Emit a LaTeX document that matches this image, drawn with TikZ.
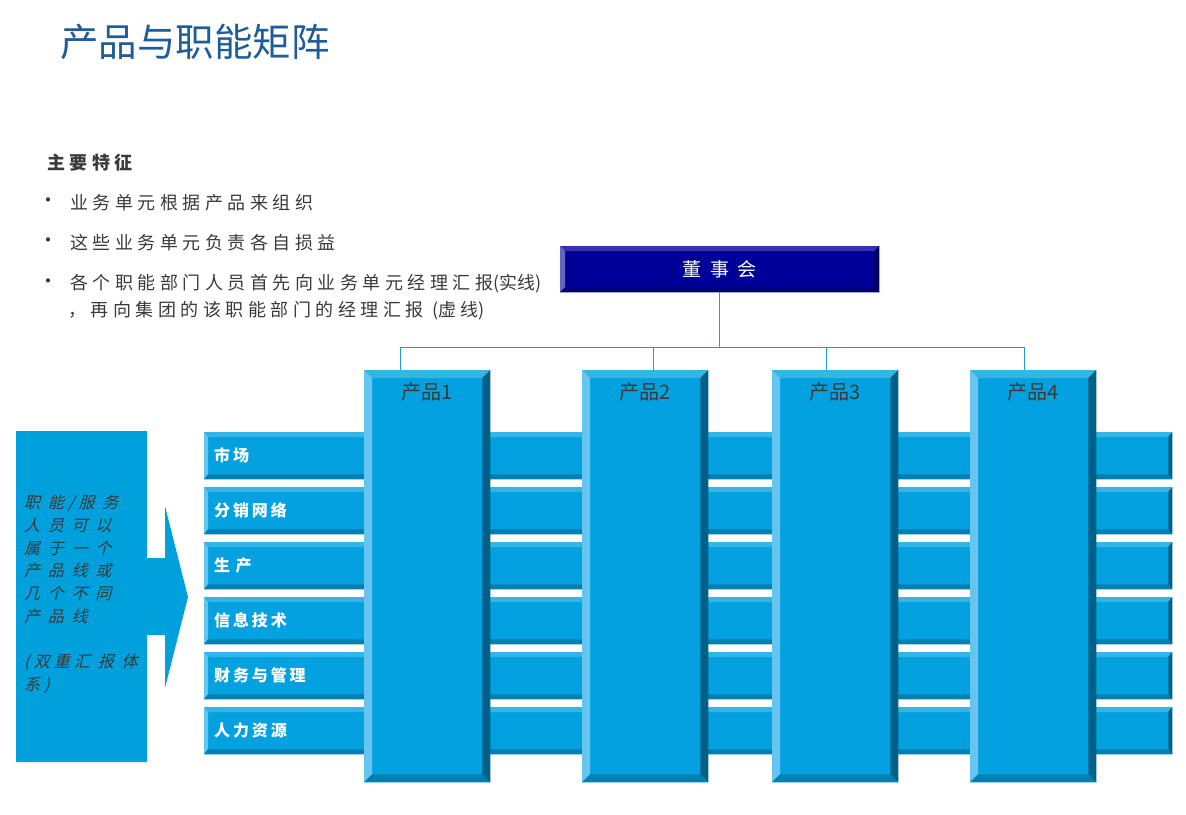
\documentclass[tikz,border=0pt]{standalone}
\usepackage{fontspec}
\usepackage{tikz}
\usetikzlibrary{positioning,calc}
\newfontfamily\cjk{Noto Sans CJK SC}
\newfontfamily\cjksp[LetterSpace=25]{Noto Sans CJK SC}
\newfontfamily\cjkwide[LetterSpace=45]{Noto Sans CJK SC}
\newfontfamily\cjkrow[LetterSpace=18]{Noto Sans CJK SC}
\newfontfamily\cjkit[FakeSlant=0.25,LetterSpace=26]{Noto Sans CJK SC}
\definecolor{titleblue}{HTML}{1F5C99}
\definecolor{txtgray}{HTML}{3A3A3A}
\definecolor{face}{HTML}{03A1E0}
\definecolor{bvtop}{HTML}{33B5E5}
\definecolor{bvleft}{HTML}{66C5EE}
\definecolor{bvright}{HTML}{006088}
\definecolor{bvbottom}{HTML}{0080B0}
\definecolor{navy}{HTML}{000099}
\definecolor{nvtop}{HTML}{3333AD}
\definecolor{nvleft}{HTML}{6666C0}
\definecolor{nvright}{HTML}{00005C}
\definecolor{nvbottom}{HTML}{000070}
\definecolor{busblue}{HTML}{1E9BD7}
\definecolor{arrowblue}{HTML}{00A0DC}

\begin{document}
\begin{tikzpicture}[x=1pt, y=-1pt,
    title/.style={anchor=west, inner sep=0, text=titleblue, font=\cjk\fontsize{38.5}{42}\selectfont},
    feat/.style={anchor=west, inner sep=0, text=txtgray, font=\cjksp\fontsize{18}{20}\selectfont},
    row/.style={anchor=north west, fill=face, minimum width=968, minimum height=47, inner ysep=0,
        inner xsep=10pt, text width=948pt, align=left, text=white, font=\cjkrow\bfseries\fontsize{16}{18}\selectfont},
    prod/.style={anchor=north west, fill=face, minimum width=126, minimum height=412, inner sep=0},
    prodlabel/.style={anchor=north, inner sep=0, text=txtgray, font=\cjk\fontsize{20}{22}\selectfont},
    board/.style={anchor=north west, fill=navy, minimum width=319, minimum height=46, inner sep=0,
        text=white, font=\cjkwide\fontsize{19}{22}\selectfont},
    bus/.style={busblue, line width=0.9pt},
    note/.style={anchor=north west, inner sep=0, align=left, text=txtgray,
        font=\cjkit\fontsize{16}{22.7}\selectfont}]
    \useasboundingbox (0,0) rectangle (1186,814);

    % Title and the list of features
    \node[title] (title) at (60,42) {产品与职能矩阵};
    \node[feat, font=\cjksp\bfseries\fontsize{18}{20}\selectfont] (head) at (47,163) {主要特征};
    \foreach \y in {203,243,284} \node[feat, font=\cjk\fontsize{20}{22}\selectfont] (dot\y) at (38,\y) {•};
    \node[feat] (f1) at (70,203) {业务单元根据产品来组织};
    \node[feat] (f2) at (70,243) {这些业务单元负责各自损益};
    \node[feat] (f3) at (70,284) {各个职能部门人员首先向业务单元经理汇报{\cjk(实线)}};
    \node[feat] (f4) at (68,311) {，再向集团的该职能部门的经理汇报 {\cjk(虚 线)}};

    % Left arrow with its note
    \fill[arrowblue] (16,431) -- (147,431) -- (147,558) -- (165,558) -- (165,506) -- (188,597)
        -- (165,688) -- (165,635) -- (147,635) -- (147,762) -- (16,762) -- cycle;
    \node[note] (note) at (24,495) {职 能/服 务\\人 员 可 以\\属 于 一 个\\产 品 线 或\\几 个 不 同\\产 品 线\\[22.7pt](双重汇 报 体\\系)};

    % Function rows
    \foreach \n/\txt [count=\i] in {mkt/市场, dist/分销网络, prodn/生 产, it/信息技术, fin/财务与管理, hr/人力资源}
        \node[row] (\n) at (204,{432+55*(\i-1)}) {\txt};
    \foreach \n in {mkt,dist,prodn,it,fin,hr} {
        \fill[bvtop] (\n.north west) -- (\n.north east) -- ([shift={(-5pt,-5pt)}]\n.north east) -- ([shift={(5pt,-5pt)}]\n.north west) -- cycle;
        \fill[bvleft] (\n.north west) -- (\n.south west) -- ([shift={(4pt,5pt)}]\n.south west) -- ([shift={(4pt,-5pt)}]\n.north west) -- cycle;
        \fill[bvright] (\n.north east) -- (\n.south east) -- ([shift={(-4pt,5pt)}]\n.south east) -- ([shift={(-4pt,-5pt)}]\n.north east) -- cycle;
        \fill[bvbottom] (\n.south west) -- (\n.south east) -- ([shift={(-4pt,5pt)}]\n.south east) -- ([shift={(4pt,5pt)}]\n.south west) -- cycle;
    }

    % Product columns
    \foreach \n/\x in {p1/364, p2/582, p3/772, p4/970}
        \node[prod] (\n) at (\x,370) {};
    \foreach \n in {p1,p2,p3,p4} {
        \fill[bvtop] (\n.north west) -- (\n.north east) -- ([shift={(-8pt,-8pt)}]\n.north east) -- ([shift={(8pt,-8pt)}]\n.north west) -- cycle;
        \fill[bvleft] (\n.north west) -- (\n.south west) -- ([shift={(8pt,8pt)}]\n.south west) -- ([shift={(8pt,-8pt)}]\n.north west) -- cycle;
        \fill[bvright] (\n.north east) -- (\n.south east) -- ([shift={(-8pt,8pt)}]\n.south east) -- ([shift={(-8pt,-8pt)}]\n.north east) -- cycle;
        \fill[bvbottom] (\n.south west) -- (\n.south east) -- ([shift={(-8pt,8pt)}]\n.south east) -- ([shift={(8pt,8pt)}]\n.south west) -- cycle;
    }
    \foreach \n/\txt in {p1/产品1, p2/产品2, p3/产品3, p4/产品4}
        \node[prodlabel] (\n t) [below=12pt of \n.north] {\txt};

    % Board and the lines down to the products
    \node[board] (board) at (560,246) {董事会};
    \fill[nvtop] (board.north west) -- (board.north east) -- ([shift={(-5pt,-5pt)}]board.north east) -- ([shift={(5pt,-5pt)}]board.north west) -- cycle;
    \fill[nvleft] (board.north west) -- (board.south west) -- ([shift={(5pt,5pt)}]board.south west) -- ([shift={(5pt,-5pt)}]board.north west) -- cycle;
    \fill[nvright] (board.north east) -- (board.south east) -- ([shift={(-5pt,5pt)}]board.south east) -- ([shift={(-5pt,-5pt)}]board.north east) -- cycle;
    \fill[nvbottom] (board.south west) -- (board.south east) -- ([shift={(-5pt,5pt)}]board.south east) -- ([shift={(5pt,5pt)}]board.south west) -- cycle;
    \draw[bus] ([xshift=-27pt]p1.north) -- ++(0,-23) coordinate (busl) -| ([xshift=-9pt]p4.north);
    \draw[bus] (board.south) -- (board.south |- busl);
    \foreach \n/\dx in {p2/8.5, p3/-9} \draw[bus] ([xshift=\dx pt]\n.north) -- ([xshift=\dx pt]\n.north |- busl);
\end{tikzpicture}
\end{document}
